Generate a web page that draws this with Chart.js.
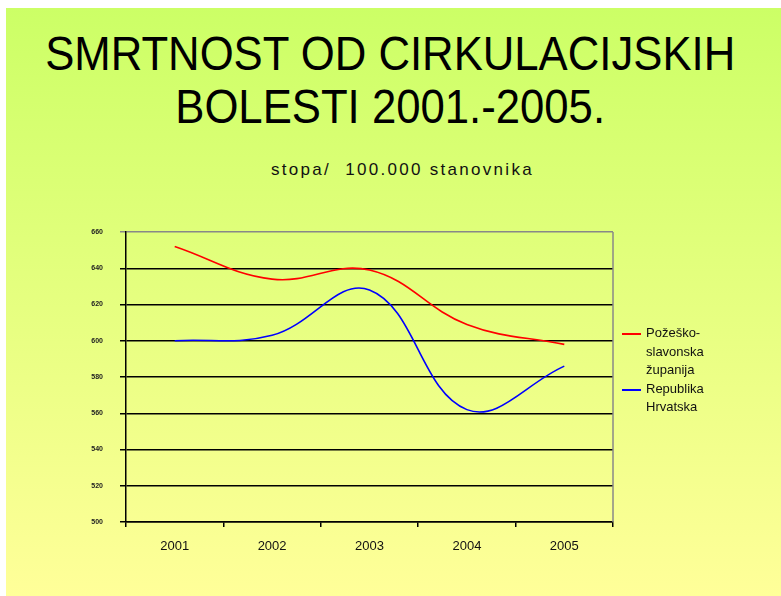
<!DOCTYPE html>
<html>
<head>
<meta charset="utf-8">
<script src="https://cdn.jsdelivr.net/npm/chart.js@4.4.0/dist/chart.umd.min.js"></script>
<style>
  html, body { margin: 0; padding: 0; }
  body { width: 781px; height: 596px; background: #fff; position: relative; overflow: hidden; font-family: "Liberation Sans", Arial, sans-serif; }
  #slide { position: absolute; left: 6px; top: 8px; right: 0; bottom: 0; background: linear-gradient(#ccff66, #ffff99); }
  .title { position: absolute; left: 0; width: 781px; text-align: center; font-size: 48px; line-height: 53px; color: #000; white-space: nowrap; }
  .title span { display: inline-block; transform: scaleX(0.91); }
  #sub { position: absolute; left: 12px; width: 781px; top: 160px; text-align: center; font-size: 17px; line-height: 20px; letter-spacing: 2.3px; color: #111; }
  #chartBox { position: absolute; left: 0; top: 0; width: 781px; height: 596px; }
  #legend { position: absolute; left: 622px; top: 324px; font-size: 13px; line-height: 18.5px; color: #111; }
  #legend .row { position: relative; padding-left: 24px; }
  #legend .sw { position: absolute; left: 0; top: 9px; width: 19px; height: 2px; }
</style>
</head>
<body>
<div id="slide"></div>
<div class="title" style="top:27px"><span>SMRTNOST OD CIRKULACIJSKIH</span></div>
<div class="title" style="top:80px"><span>BOLESTI 2001.-2005.</span></div>
<div id="sub">stopa/&nbsp; 100.000 stanovnika</div>
<div id="chartBox"><canvas id="myChart" width="781" height="596"></canvas></div>
<div id="legend">
  <div class="row"><div class="sw" style="background:#ff0000"></div>Požeško-<br>slavonska<br>županija</div>
  <div class="row"><div class="sw" style="background:#0000ff"></div>Republika<br>Hrvatska</div>
</div>
<script>
'use strict';

let years = ['2001', '2002', '2003', '2004', '2005'];
let pozeskoSlavonska = [652, 634, 639, 609, 598];
let hrvatska = [600, 603, 628, 562, 586];
let yTicks = [500, 520, 540, 560, 580, 600, 620, 640, 660];

let ctx = document.getElementById( 'myChart' ).getContext( '2d' );

let myChart = new Chart( ctx, {
  type: 'line',
  data: {
    labels: years,
    datasets: [{
      label: 'Požeško-slavonska županija',
      data: pozeskoSlavonska,
      borderColor: '#ff0000',
      borderWidth: 1.6,
      pointRadius: 0,
      tension: 0.4
    }, {
      label: 'Republika Hrvatska',
      data: hrvatska,
      borderColor: '#0000ff',
      borderWidth: 1.6,
      pointRadius: 0,
      tension: 0.4
    }]
  },
  options: {
    responsive: false,
    animation: false,
    layout: { padding: { left: 0, top: 232, right: 168, bottom: 0 } },
    plugins: {
      legend: { display: false },
      tooltip: { enabled: false }
    },
    scales: {
      x: {
        offset: true,
        grid: { offset: true, drawOnChartArea: false, color: '#000', tickLength: 5, lineWidth: 1.5 },
        border: { color: '#000', width: 1.5 },
        ticks: { color: '#111', font: { family: 'Liberation Sans', size: 13 }, padding: 12 },
        afterFit: function( scale ) { scale.height = 74; }
      },
      y: {
        min: 500,
        max: 660,
        afterBuildTicks: function( scale ) { scale.ticks = yTicks.map( v => ( { value: v } ) ); },
        grid: {
          color: c => ( c.tick && c.tick.value === 660 ? '#888' : '#000' ),
          lineWidth: 1.5,
          tickLength: 6
        },
        border: { color: '#000', width: 1.5 },
        ticks: { color: '#222', font: { family: 'Liberation Sans', size: 7, weight: 'bold' }, padding: 17 },
        afterFit: function( scale ) { scale.width = 126; }
      }
    }
  },
  plugins: [{
    id: 'rightBorder',
    afterDraw: function( chart ) {
      let a = chart.chartArea;
      let c = chart.ctx;
      c.save();
      c.strokeStyle = '#888';
      c.lineWidth = 1.5;
      c.beginPath();
      c.moveTo( a.right, a.top );
      c.lineTo( a.right, a.bottom );
      c.stroke();
      c.restore();
    }
  }]
} );
</script>
</body>
</html>
